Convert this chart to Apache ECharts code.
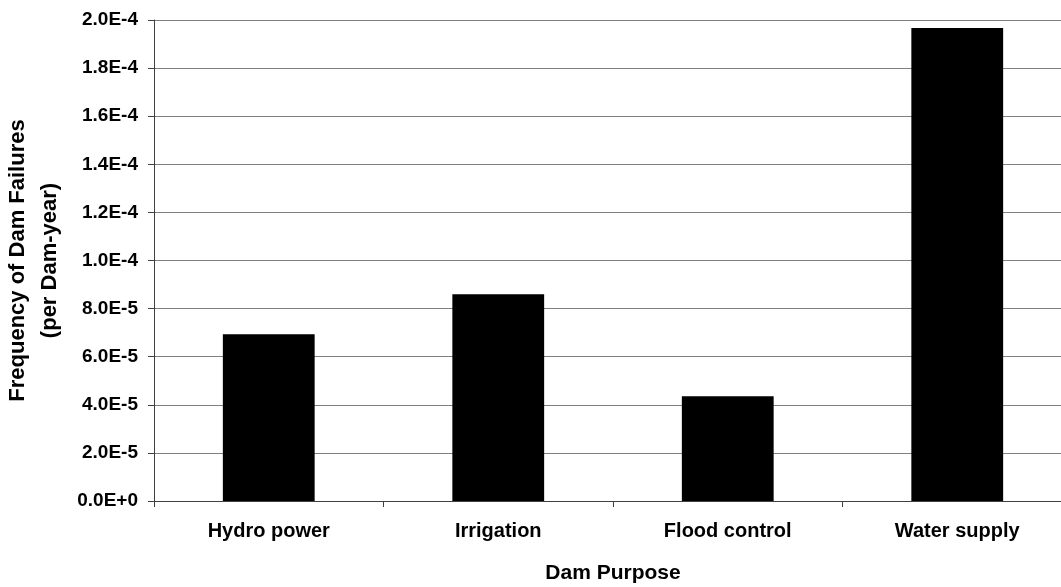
<!DOCTYPE html>
<html>
<head>
  <meta charset="utf-8">
  <title>Dam failures by purpose</title>
  <script src="https://cdn.jsdelivr.net/npm/echarts@6/dist/echarts.min.js"></script>
</head>
<body style="margin:0">
  <div id="main" style="width:1061px;height:587px;"></div>
  <script type="text/javascript">
    var categories = ['Hydro power', 'Irrigation', 'Flood control', 'Water supply'];
    var failureFreq = [6.93e-5, 8.6e-5, 4.36e-5, 1.967e-4];

    var myChart = echarts.init(document.getElementById('main'));
    var font = 'Liberation Sans, Arial, sans-serif';

    var option = {
      animation: false,
      // plot runs past the right edge of the picture, like the original
      grid: { left: 154, top: 20, width: 918, height: 481, outerBoundsMode: 'none', containLabel: false },
      xAxis: {
        type: 'category',
        data: categories,
        name: 'Dam Purpose',
        nameLocation: 'middle',
        nameGap: 62,
        nameTextStyle: { fontFamily: font, fontWeight: 'bold', fontSize: 21, color: '#000' },
        axisLine: { lineStyle: { color: '#404040', width: 1 } },
        axisTick: { show: true, length: 6, lineStyle: { color: '#404040' } },
        axisLabel: { margin: 20, fontFamily: font, fontWeight: 'bold', fontSize: 20, color: '#000' }
      },
      yAxis: {
        type: 'value',
        min: 0,
        max: 2e-4,
        interval: 2e-5,
        name: 'Frequency of Dam Failures\n(per Dam-year)',
        nameLocation: 'middle',
        nameGap: 87,
        nameTextStyle: { fontFamily: font, fontWeight: 'bold', fontSize: 22, color: '#000', lineHeight: 32 },
        axisLine: { show: true, lineStyle: { color: '#404040', width: 1 } },
        axisTick: { show: true, length: 6, lineStyle: { color: '#404040' } },
        axisLabel: {
          margin: 16,
          fontFamily: font, fontWeight: 'bold', fontSize: 19, color: '#000',
          formatter: function (v) {
            return v.toExponential(1).replace('e', 'E');
          }
        },
        splitLine: { lineStyle: { color: '#808080', width: 1 } }
      },
      series: [
        {
          type: 'bar',
          data: failureFreq,
          barWidth: '40%',
          itemStyle: { color: '#000' }
        }
      ]
    };

    myChart.setOption(option);
  </script>
</body>
</html>
